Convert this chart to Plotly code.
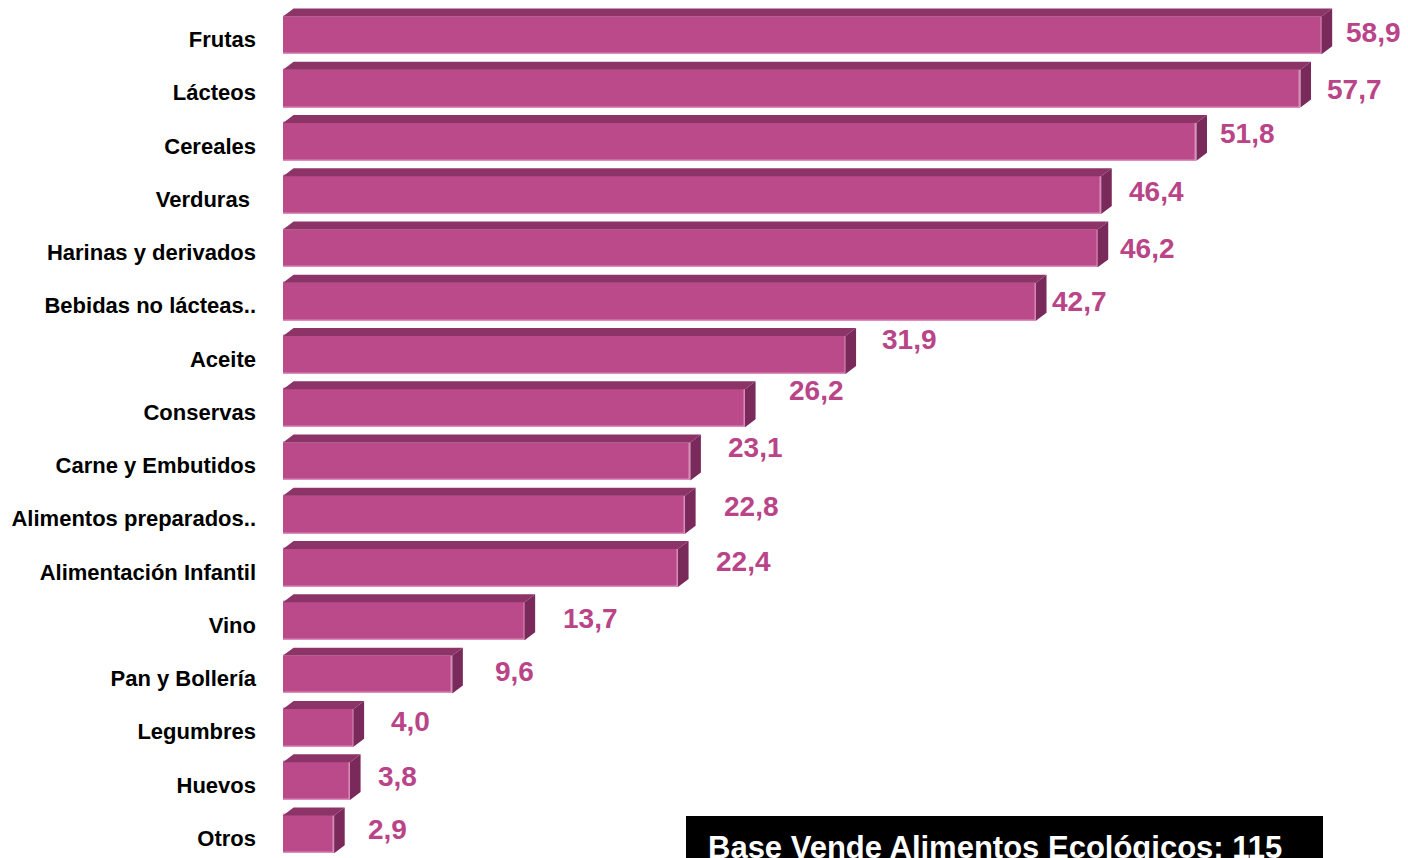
import plotly.graph_objects as go

CATEGORIES = ["Frutas", "Lácteos", "Cereales", "Verduras ", "Harinas y derivados",
              "Bebidas no lácteas..", "Aceite", "Conservas", "Carne y Embutidos",
              "Alimentos preparados..", "Alimentación Infantil", "Vino", "Pan y Bollería",
              "Legumbres", "Huevos", "Otros"]
VALUES = [58.9, 57.7, 51.8, 46.4, 46.2, 42.7, 31.9, 26.2, 23.1, 22.8, 22.4,
          13.7, 9.6, 4.0, 3.8, 2.9]
BASE_TEXT = "Base Vende Alimentos Ecológicos: 115"

# label nudges (pixels) to follow the original placement
LABEL_DX = [22, 25, 22, 26, 20, 14, 34, 42, 36, 37, 36, 36, 41, 35, 26, 32]
LABEL_DY = [0, -4, 6, 1, -3, -3, 13, 15, 11, 5, 4, 0, 0, 3, 2, 2]

FRONT = "#BB4A8A"
TOP = "#8C3468"
SIDE = "#7A2A5A"
EDGE = "#DA8DBA"
LABEL = "#B94488"
FONT = "Liberation Sans, Arial"

# page has an 8px body margin, so the figure is drawn 8px in
OFF = 8
W, H = 1408 - OFF, 858 - OFF
ML, MR, MT, MB = 283 - OFF, 67, 0, 0
XMAX = 60

# 3D geometry in data units
DX = 0.6      # depth to the right
DY = 0.15     # depth upward
F_TOP, F_H = -0.30, 0.71
TICK_DROP = 0.13  # category names sit a bit below the bar centre

pos = list(range(len(CATEGORIES)))

fig = go.Figure()
fig.add_trace(go.Bar(
    y=pos, x=VALUES, orientation="h", width=F_H, offset=F_TOP,
    marker=dict(color=FRONT, line=dict(color=EDGE, width=1.5)),
    hoverinfo="skip", showlegend=False,
))

# top and side faces
tx, ty, sx, sy = [], [], [], []
for p, v in zip(pos, VALUES):
    t = p + F_TOP
    b = t + F_H
    tx += [0, DX, v + DX, v, 0, None]
    ty += [t, t - DY, t - DY, t, t, None]
    sx += [v, v + DX, v + DX, v, v, None]
    sy += [t, t - DY, b - DY, b, t, None]
fig.add_trace(go.Scatter(x=tx, y=ty, fill="toself", fillcolor=TOP, mode="lines",
                         line=dict(width=0, color=TOP), hoverinfo="skip",
                         showlegend=False))
fig.add_trace(go.Scatter(x=sx, y=sy, fill="toself", fillcolor=SIDE, mode="lines",
                         line=dict(width=0, color=SIDE), hoverinfo="skip",
                         showlegend=False))

for p, v, dx, dy in zip(pos, VALUES, LABEL_DX, LABEL_DY):
    fig.add_annotation(x=v, y=p, text=f"{v:.1f}".replace(".", ","), showarrow=False,
                       xanchor="left", xshift=dx, yshift=dy,
                       font=dict(size=28, color=LABEL, weight="bold", family=FONT))

# base box at the bottom (page pixel coords -> paper)
pw = W - ML - MR
ph = H - MT - MB
def px_x(x):
    return (x - OFF - ML) / pw
def px_y(y):
    return (OFF + H - MB - y) / ph

fig.add_shape(type="rect", xref="paper", yref="paper",
              x0=px_x(686), x1=px_x(1323), y0=px_y(880), y1=px_y(816),
              fillcolor="black", line=dict(width=0), layer="above")
fig.add_annotation(xref="paper", yref="paper", x=px_x(706), y=px_y(847),
                   xanchor="left", yanchor="middle", text=BASE_TEXT, showarrow=False,
                   font=dict(size=31, color="white", weight="bold", family=FONT))

fig.update_layout(
    width=W, height=H, margin=dict(l=ML, r=MR, t=MT, b=MB),
    plot_bgcolor="white", paper_bgcolor="white",
    xaxis=dict(range=[0, XMAX], visible=False),
    yaxis=dict(range=[len(CATEGORIES) - 0.5, -0.46],
               tickvals=[p + TICK_DROP for p in pos], ticktext=CATEGORIES,
               showgrid=False, zeroline=False, showline=False, ticks="",
               ticklabelstandoff=26,
               tickfont=dict(size=22, color="black", weight="bold", family=FONT)),
    bargap=0,
)

fig.write_html("out.html")
